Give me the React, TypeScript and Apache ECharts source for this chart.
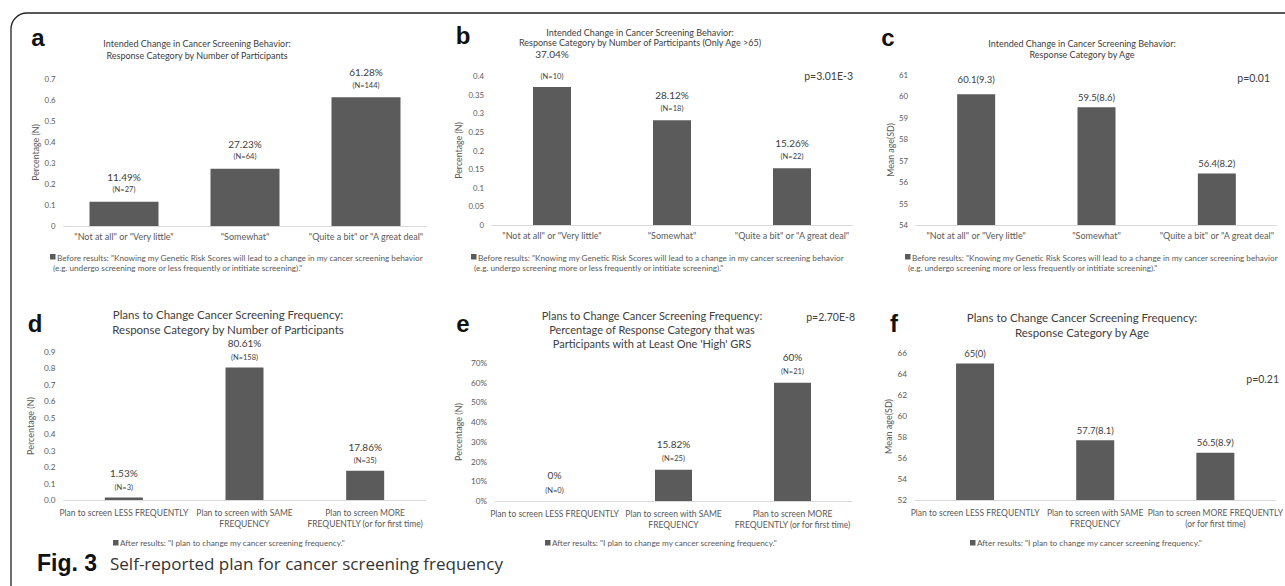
import React, { useEffect, useRef } from 'react';
import * as echarts from 'echarts';

// ---------- data ----------
const catsBefore = ['"Not at all" or "Very little"', '"Somewhat"', '"Quite a bit" or "A great deal"'];
const catsAfterD = ['Plan to screen LESS FREQUENTLY', 'Plan to screen with SAME\nFREQUENCY', 'Plan to screen MORE\nFREQUENTLY (or for first time)'];
const catsAfterF = ['Plan to screen LESS FREQUENTLY', 'Plan to screen with SAME\nFREQUENCY', 'Plan to screen MORE FREQUENTLY\n(or for first time)'];

const shareA = [0.1149, 0.2723, 0.6128];
const countA = [27, 64, 144];
const shareB = [0.3704, 0.2812, 0.1526];
const countB = [10, 18, 22];
const ageC = [60.1, 59.5, 56.4];
const sdC = [9.3, 8.6, 8.2];
const shareD = [0.0153, 0.8061, 0.1786];
const countD = [3, 158, 35];
const shareE = [0, 0.1582, 0.6];
const countE = [0, 25, 21];
const ageF = [65, 57.7, 56.5];
const sdF = [0, 8.1, 8.9];

// y-axis ranges [min, max, interval]
const yRangeA = [0, 0.7, 0.1];
const yRangeB = [0, 0.4, 0.05];
const yRangeC = [54, 61, 1];
const yRangeD = [0, 0.9, 0.1];
const yRangeE = [0, 0.7, 0.1];
const yRangeF = [52, 66, 2];

const panelLetters = ['a', 'b', 'c', 'd', 'e', 'f'];
const panelTitles = [
  'Intended Change in Cancer Screening Behavior:\nResponse Category by Number of Participants',
  'Intended Change in Cancer Screening Behavior:\nResponse Category by Number of Participants (Only Age >65)',
  'Intended Change in Cancer Screening Behavior:\nResponse Category by Age',
  'Plans to Change Cancer Screening Frequency:\nResponse Category by Number of Participants',
  "Plans to Change Cancer Screening Frequency:\nPercentage of Response Category that was\nParticipants with at Least One 'High' GRS",
  'Plans to Change Cancer Screening Frequency:\nResponse Category by Age',
];
const pValues = ['', 'p=3.01E-3', 'p=0.01', '', 'p=2.70E-8', 'p=0.21'];
const yNames = ['Percentage (N)', 'Percentage (N)', 'Mean age(SD)', 'Percentage (N)', 'Percentage (N)', 'Mean age(SD)'];
const legendBefore1 = 'Before results: "Knowing my Genetic Risk Scores will lead to a change in my cancer screening behavior';
const legendBefore2 = '(e.g. undergo screening more or less frequently or intitiate screening)."';
const legendAfter = 'After results: "I plan to change my cancer screening frequency."';
const captionBold = 'Fig. 3';
const captionText = 'Self-reported plan for cancer screening frequency';

// ---------- styles ----------
const FONT = 'Lato, "Open Sans", sans-serif';
const BAR = '#5b5b5b';
const TXT = '#595959';
const DARK = '#404040';

const pct = (v: number) => parseFloat((v * 100).toFixed(2)) + '%';

function App() {
  const ref = useRef<HTMLDivElement>(null);
  useEffect(() => {
    if (!ref.current) return;
    const chart = echarts.init(ref.current, null, { renderer: 'svg' });

    const panels: any[] = [
      { cats: catsBefore, vals: shareA, labels: shareA.map((v, i) => `{p|${pct(v)}}\n{n|(N=${countA[i]})}`), range: yRangeA,
        grid: { left: 63.5, top: 79, width: 363, height: 147 }, barWidth: 69, nameGap: 24, row: 1, dist: 6, lp: 14 },
      { cats: catsBefore, vals: shareB, labels: shareB.map((v, i) => `{p|${pct(v)}}\n{n|(N=${countB[i]})}`), range: yRangeB,
        grid: { left: 492, top: 76, width: 360, height: 149 }, barWidth: 38, nameGap: 29, row: 1, dist: 6, lp: 14, firstLp: 32, firstDist: 5 },
      { cats: catsBefore, vals: ageC, labels: ageC.map((v, i) => `{a|${v}(${sdC[i]})}`), range: yRangeC,
        grid: { left: 916, top: 75, width: 361, height: 150 }, barWidth: 38, nameGap: 21, row: 1, dist: 4, lp: 14, firstLp: 14, firstDist: 9 },
      { cats: catsAfterD, vals: shareD, labels: shareD.map((v, i) => `{p|${pct(v)}}\n{n|(N=${countD[i]})}`), range: yRangeD,
        grid: { left: 63.5, top: 352, width: 362, height: 148 }, barWidth: 38, nameGap: 29, row: 2, dist: 4, lp: 16,
        fmt: (v: number) => v.toFixed(1) },
      { cats: catsAfterD, vals: shareE, labels: shareE.map((v, i) => `{p|${pct(v)}}\n{n|(N=${countE[i]})}`), range: yRangeE,
        grid: { left: 495, top: 363, width: 357, height: 138 }, barWidth: 37, nameGap: 32, row: 2, dist: 5, lp: 18,
        fmt: (v: number) => Math.round(v * 100) + '%' },
      { cats: catsAfterF, vals: ageF, labels: ageF.map((v, i) => `{a|${v}(${sdF[i]})}`), range: yRangeF,
        grid: { left: 915, top: 353, width: 366, height: 147 }, barWidth: 38, nameGap: 22, row: 2, dist: 4, lp: 14 },
    ];

    const mkRich = (lp: number) => ({
      p: { fontSize: 10, lineHeight: lp, color: DARK, fontFamily: FONT },
      n: { fontSize: 7.5, lineHeight: 12, color: DARK, fontFamily: FONT },
      a: { fontSize: 9.5, lineHeight: 12, color: DARK, fontFamily: FONT },
    });

    const grids = panels.map((p) => ({ ...p.grid }));
    const xAxes = panels.map((p, k) => ({
      type: 'category', gridIndex: k, data: p.cats,
      axisLine: { lineStyle: { color: '#d9d9d9', width: 1 } },
      axisTick: { show: false },
      axisLabel: { interval: 0, fontSize: p.row === 1 ? 9 : 8.5, lineHeight: 11, color: TXT, fontFamily: FONT, margin: p.row === 1 ? 5 : 7 },
    }));
    const yAxes = panels.map((p, k) => ({
      type: 'value', gridIndex: k, min: p.range[0], max: p.range[1], interval: p.range[2],
      axisLine: { show: false }, axisTick: { show: false }, splitLine: { show: false },
      axisLabel: { fontSize: p.row === 1 ? 7.8 : 8.2, color: TXT, fontFamily: FONT, margin: 8, formatter: p.fmt },
      name: yNames[k], nameLocation: 'middle', nameGap: p.nameGap,
      nameTextStyle: { fontSize: p.row === 1 ? 8.8 : 9, color: TXT, fontFamily: FONT },
    }));
    const series = panels.map((p, k) => ({
      type: 'bar', xAxisIndex: k, yAxisIndex: k, barWidth: p.barWidth, silent: true,
      itemStyle: { color: BAR },
      data: p.vals.map((v: number, i: number) => {
        if (i === 0 && p.firstLp) {
          return { value: v, label: { show: true, position: 'top', distance: p.firstDist, formatter: p.labels[i], rich: mkRich(p.firstLp) } };
        }
        return { value: v };
      }),
      label: { show: true, position: 'top', distance: p.dist, formatter: (q: any) => p.labels[q.dataIndex], rich: mkRich(p.lp) },
    }));

    const txt = (text: string, x: number, y: number, st: any) => ({
      type: 'text', x, y, silent: true,
      style: { text, fontFamily: FONT, fill: TXT, ...st },
    });

    const letterPos = [[38, 37], [463, 35], [888, 37], [35, 323], [463, 323], [894, 323]];
    const titlePos = [[197, 37, 9, 12], [640, 27.5, 9, 10], [1082, 37.5, 9, 11], [228, 307, 11.5, 15], [652, 308, 11, 14], [1082, 309.5, 11.5, 15]];
    const pPos = [null, [853, 76], [1270, 78], null, [855, 317], [1279, 379]];
    const legend1X = [50, 471, 905];
    const legend2X = [113, 545, 970];

    const graphic: any[] = [
      { type: 'rect', silent: true, shape: { x: 11, y: 13, width: 1400, height: 700, r: 16 }, style: { fill: 'none', stroke: '#222', lineWidth: 1.3 } },
    ];
    panelLetters.forEach((l, k) => {
      graphic.push(txt(l, letterPos[k][0], letterPos[k][1], { fontSize: 24, fontWeight: 'bold', fontFamily: '"Liberation Sans", Arial, sans-serif', fill: '#111', textAlign: 'center', align: 'center', textVerticalAlign: 'middle', verticalAlign: 'middle' }));
      const t = titlePos[k];
      graphic.push(txt(panelTitles[k], t[0], t[1], { fontSize: t[2], lineHeight: t[3], fill: DARK, textAlign: 'center', align: 'center', textVerticalAlign: 'top', verticalAlign: 'top' }));
      const pp = pPos[k];
      if (pp && pValues[k]) {
        graphic.push(txt(pValues[k], pp[0], pp[1], { fontSize: 10.5, fill: DARK, textAlign: 'right', align: 'right', textVerticalAlign: 'middle', verticalAlign: 'middle' }));
      }
    });
    legend1X.forEach((x0) => {
      graphic.push({ type: 'rect', silent: true, shape: { x: x0, y: 254, width: 5.5, height: 5.5 }, style: { fill: BAR } });
      graphic.push(txt(legendBefore1, x0 + 7, 257.5, { fontSize: 8.2, fill: TXT, textAlign: 'left', align: 'left', textVerticalAlign: 'middle', verticalAlign: 'middle' }));
      graphic.push(txt(legendBefore2, x0 + 3, 267.5, { fontSize: 8.2, fill: TXT, textAlign: 'left', align: 'left', textVerticalAlign: 'middle', verticalAlign: 'middle' }));
    });
    legend2X.forEach((x0) => {
      graphic.push({ type: 'rect', silent: true, shape: { x: x0, y: 540, width: 5.5, height: 5.5 }, style: { fill: BAR } });
      graphic.push(txt(legendAfter, x0 + 7, 543, { fontSize: 8.2, fill: TXT, textAlign: 'left', align: 'left', textVerticalAlign: 'middle', verticalAlign: 'middle' }));
    });
    graphic.push(txt(captionBold, 37, 563, { fontSize: 23, fontWeight: 'bold', fontFamily: '"Liberation Sans", Arial, sans-serif', fill: '#111', textAlign: 'left', align: 'left', textVerticalAlign: 'middle', verticalAlign: 'middle' }));
    graphic.push(txt(captionText, 110, 563, { fontSize: 17, fontFamily: '"Open Sans", Lato, sans-serif', fill: '#333', textAlign: 'left', align: 'left', textVerticalAlign: 'middle', verticalAlign: 'middle' }));

    chart.setOption({
      animation: false,
      backgroundColor: '#ffffff',
      grid: grids,
      xAxis: xAxes,
      yAxis: yAxes,
      series,
      graphic,
    });
    return () => chart.dispose();
  }, []);

  return <div ref={ref} style={{ position: 'fixed', left: 0, top: 0, width: 1285, height: 586 }} />;
}

export default App;
